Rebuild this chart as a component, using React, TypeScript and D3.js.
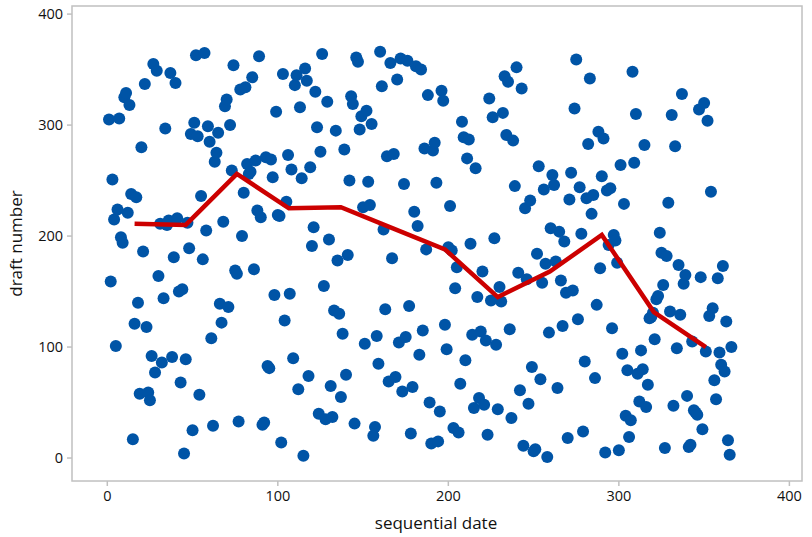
import React from "react";
import * as d3 from "d3";

const jan = [305,159,251,215,101,224,306,199,194,325,329,221,318,238,17,121,235,140,58,280,186,337,118,59,52,92,355,77,349,164,211];
const feb = [86,144,297,210,214,347,91,181,338,216,150,68,152,4,89,212,189,292,25,302,363,290,57,236,179,365,205,299,285];
const mar = [108,29,267,275,293,139,122,213,317,323,136,300,259,354,169,166,33,332,200,239,334,265,256,258,343,170,268,223,362,217,30];
const apr = [32,271,83,81,269,253,147,312,219,218,14,346,124,231,273,148,260,90,336,345,62,316,252,2,351,340,74,262,191,208];
const may = [330,298,40,276,364,155,35,321,197,65,37,133,295,178,130,55,112,278,75,183,250,326,319,31,361,357,296,308,226,103,313];
const jun = [249,228,301,20,28,110,85,366,335,206,134,272,69,356,180,274,73,341,104,360,60,247,109,358,137,22,64,222,353,209];
const jul = [93,350,115,279,188,327,50,13,277,284,248,15,42,331,322,120,98,190,227,187,27,153,172,23,67,303,289,88,270,287,193];
const aug = [111,45,261,145,54,114,168,48,106,21,324,142,307,198,102,44,154,141,311,344,291,339,116,36,286,245,352,167,61,333,11];
const sep = [225,161,49,232,82,6,8,184,263,71,158,242,175,1,113,207,255,246,177,63,204,160,119,195,149,18,233,257,151,315];
const oct = [359,125,244,202,24,87,234,283,342,220,237,72,138,294,171,254,288,5,241,192,243,117,201,196,176,7,264,94,229,38,79];
const nov = [19,34,348,266,310,76,51,97,80,282,46,66,126,127,131,107,143,146,203,185,156,9,182,230,132,309,47,281,99,174];
const dec = [129,328,157,165,56,10,12,105,43,41,39,314,163,26,320,96,304,128,240,135,70,53,162,95,84,173,78,123,16,3,100];

const draftNumbers = [...jan, ...feb, ...mar, ...apr, ...may, ...jun, ...jul, ...aug, ...sep, ...oct, ...nov, ...dec];

const medianDates = [16, 46, 76, 106.5, 137, 167.5, 198, 229, 259.5, 290, 320.5, 351];
const medianDraft = [211, 210, 256, 225, 226, 207, 188, 145, 168, 201, 131.5, 100];

const xTicks = [0, 100, 200, 300, 400];
const yTicks = [0, 100, 200, 300, 400];

export default function App() {
  const W = 812, H = 537;
  const L = 72, R = 802, T = 6, B = 481;
  const x = d3.scaleLinear().domain([-20.7, 407.4]).range([L, R]);
  const y = d3.scaleLinear().domain([-20.7, 407.3]).range([B, T]);
  const line = d3.line<number>().x((_, i) => x(medianDates[i])).y((d) => y(d));
  const font = "'Open Sans', 'DejaVu Sans', sans-serif";
  return (
    <svg width={W} height={H} style={{ position: "absolute", left: 0, top: 0 }} fontFamily={font}>
      <rect x={L} y={T} width={R - L} height={B - T} fill="white" stroke="#c0c0c0" strokeWidth={1.5} />
      {xTicks.map((t) => (
        <g key={"x" + t}>
          <line x1={x(t)} x2={x(t)} y1={B} y2={B + 5} stroke="#c0c0c0" strokeWidth={1.5} />
          <text x={x(t)} y={B + 20} textAnchor="middle" fontSize={14.5} fill="#111">{t}</text>
        </g>
      ))}
      {yTicks.map((t) => (
        <g key={"y" + t}>
          <line x1={L - 5} x2={L} y1={y(t)} y2={y(t)} stroke="#c0c0c0" strokeWidth={1.5} />
          <text x={L - 9} y={y(t) + 5} textAnchor="end" fontSize={14.5} fill="#111">{t}</text>
        </g>
      ))}
      {draftNumbers.map((d, i) => (
        <circle key={i} cx={x(i + 1)} cy={y(d)} r={6} fill="#0054a6" />
      ))}
      <path d={line(medianDraft) || ""} fill="none" stroke="#cc0000" strokeWidth={4.5} strokeLinejoin="miter" />
      <text x={(L + R) / 2 - 1} y={529} textAnchor="middle" fontSize={17} fill="#111">sequential date</text>
      <text transform={`translate(22,${(T + B) / 2}) rotate(-90)`} textAnchor="middle" fontSize={17} fill="#111">draft number</text>
    </svg>
  );
}
